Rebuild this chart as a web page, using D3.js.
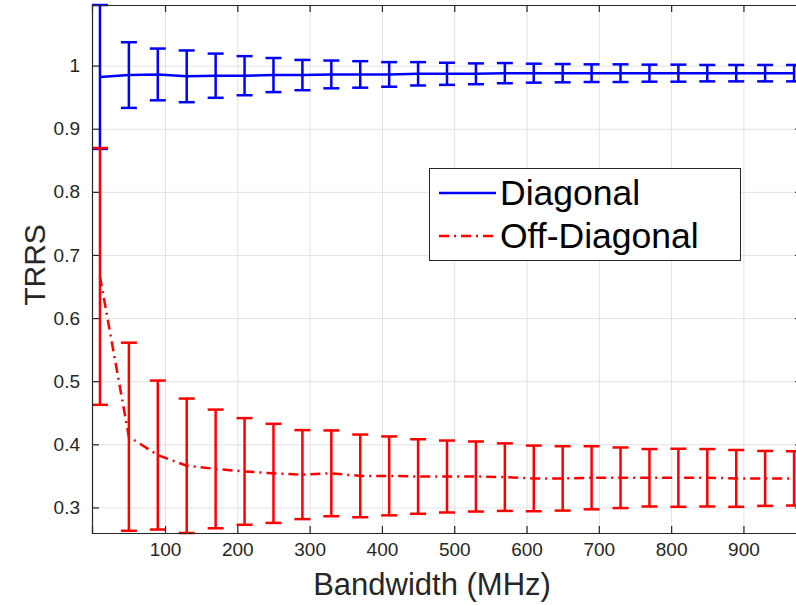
<!DOCTYPE html>
<html>
<head>
<meta charset="utf-8">
<script src="https://cdn.jsdelivr.net/npm/d3@7/dist/d3.min.js"></script>
<style>
    body { margin: 0; background: #fff; }
    svg text { font-family: 'Liberation Sans', Arial, sans-serif; fill: #262626; }
</style>
</head>
<body>
<div id="chart"></div>
<script>
// bandwidth steps (MHz)
var bandwidth = [10, 50, 90, 130, 170, 210, 250, 290, 330, 370, 410, 450, 490,
    530, 570, 610, 650, 690, 730, 770, 810, 850, 890, 930, 970];

// Diagonal: mean TRRS and error half-width
var diagMean = [0.982, 0.985, 0.986, 0.983, 0.984, 0.984, 0.985, 0.985, 0.986, 0.986,
    0.986, 0.987, 0.987, 0.987, 0.988, 0.988, 0.988, 0.988, 0.988, 0.988,
    0.988, 0.988, 0.988, 0.988, 0.988];
var diagErr = [0.114, 0.052, 0.041, 0.041, 0.035, 0.031, 0.027, 0.024, 0.022, 0.021,
    0.0195, 0.0185, 0.0175, 0.0165, 0.016, 0.015, 0.0145, 0.014, 0.014, 0.0135,
    0.0135, 0.013, 0.013, 0.013, 0.013];

// Off-diagonal
var offMean = [0.666, 0.412, 0.383, 0.366, 0.361, 0.357, 0.354, 0.352, 0.354, 0.350,
    0.350, 0.349, 0.349, 0.349, 0.348, 0.346, 0.346, 0.347, 0.347, 0.347,
    0.347, 0.347, 0.346, 0.346, 0.346];
var offErr = [0.2035, 0.149, 0.118, 0.1065, 0.094, 0.0845, 0.0785, 0.0705, 0.068, 0.0655,
    0.0625, 0.059, 0.057, 0.0555, 0.0535, 0.052, 0.051, 0.050, 0.048, 0.0455,
    0.046, 0.0455, 0.045, 0.0435, 0.043];

var xTicks = [100, 200, 300, 400, 500, 600, 700, 800, 900];
var yTicks = [0.3, 0.4, 0.5, 0.6, 0.7, 0.8, 0.9, 1];

var W = 796, H = 605;
var plotLeft = 92, plotTop = 5, plotRight = 802, plotBottom = 533;
var capHalf = 8;
var dashDot = '10,5,2,5';

var svg = d3.select('#chart').append('svg')
    .attr('width', W)
    .attr('height', H);

// tight limits like matlab "axis tight" (error bars included)
var yMin = d3.min(offMean.map(function(m, i) { return m - offErr[i]; }));
var yMax = d3.max(diagMean.map(function(m, i) { return m + diagErr[i]; }));

var xScale = d3.scaleLinear().domain([-1, 981]).range([plotLeft, plotRight]);
var yScale = d3.scaleLinear().domain([yMin, yMax]).range([plotBottom, plotTop]);

// grid
var grid = svg.append('g');
grid.append('g')
    .attr('transform', 'translate(0,' + plotBottom + ')')
    .call(d3.axisBottom(xScale).tickValues(xTicks).tickSize(-(plotBottom - plotTop)).tickFormat(''))
    .call(function(g) { g.select('.domain').remove(); });
grid.append('g')
    .attr('transform', 'translate(' + plotLeft + ',0)')
    .call(d3.axisLeft(yScale).tickValues(yTicks).tickSize(-(plotRight - plotLeft)).tickFormat(''))
    .call(function(g) { g.select('.domain').remove(); });
grid.selectAll('line').attr('stroke', '#e2e2e2').attr('stroke-width', 1);

function drawSeries(mean, err, color, dash) {
    var g = svg.append('g');
    var line = d3.line()
        .x(function(d, i) { return xScale(bandwidth[i]); })
        .y(function(d) { return yScale(d); });

    g.append('path')
        .datum(mean)
        .attr('d', line)
        .attr('fill', 'none')
        .attr('stroke', color)
        .attr('stroke-width', 2.5)
        .attr('stroke-dasharray', dash);

    var bars = g.selectAll('g.bar')
        .data(mean)
        .enter()
        .append('g')
        .attr('class', 'bar')
        .attr('stroke', color)
        .attr('stroke-width', 2.5);

    bars.append('line')
        .attr('x1', function(d, i) { return xScale(bandwidth[i]); })
        .attr('x2', function(d, i) { return xScale(bandwidth[i]); })
        .attr('y1', function(d, i) { return yScale(d + err[i]); })
        .attr('y2', function(d, i) { return yScale(d - err[i]); });
    bars.append('line')
        .attr('x1', function(d, i) { return xScale(bandwidth[i]) - capHalf; })
        .attr('x2', function(d, i) { return xScale(bandwidth[i]) + capHalf; })
        .attr('y1', function(d, i) { return yScale(d + err[i]); })
        .attr('y2', function(d, i) { return yScale(d + err[i]); });
    bars.append('line')
        .attr('x1', function(d, i) { return xScale(bandwidth[i]) - capHalf; })
        .attr('x2', function(d, i) { return xScale(bandwidth[i]) + capHalf; })
        .attr('y1', function(d, i) { return yScale(d - err[i]); })
        .attr('y2', function(d, i) { return yScale(d - err[i]); });
}

drawSeries(diagMean, diagErr, '#0000ff', null);
drawSeries(offMean, offErr, '#ff0000', dashDot);

// axes (box on, ticks inward)
var axes = svg.append('g');
axes.append('g')
    .attr('transform', 'translate(0,' + plotBottom + ')')
    .call(d3.axisBottom(xScale).tickValues(xTicks).tickSize(-7).tickPadding(10).tickFormat(d3.format('d')));
axes.append('g')
    .attr('transform', 'translate(0,' + plotTop + ')')
    .call(d3.axisTop(xScale).tickValues(xTicks).tickSize(-7).tickFormat(''));
axes.append('g')
    .attr('transform', 'translate(' + plotLeft + ',0)')
    .call(d3.axisLeft(yScale).tickValues(yTicks).tickSize(-7).tickPadding(12).tickFormat(d3.format('')));
axes.append('g')
    .attr('transform', 'translate(' + plotRight + ',0)')
    .call(d3.axisRight(yScale).tickValues(yTicks).tickSize(-7).tickFormat(''));
axes.selectAll('.domain').attr('stroke', '#262626').attr('stroke-width', 1.2);
axes.selectAll('.tick line').attr('stroke', '#262626').attr('stroke-width', 1.2);
axes.selectAll('.tick text').attr('font-size', 19).attr('fill', '#262626')
    .style('font-family', "'Liberation Sans', Arial, sans-serif");

// labels
svg.append('text')
    .attr('x', 432)
    .attr('y', 595)
    .attr('text-anchor', 'middle')
    .attr('font-size', 31)
    .text('Bandwidth (MHz)');

svg.append('text')
    .attr('transform', 'translate(45,265) rotate(-90)')
    .attr('text-anchor', 'middle')
    .attr('font-size', 30)
    .text('TRRS');

// legend
var legend = svg.append('g');
legend.append('rect')
    .attr('x', 429.5)
    .attr('y', 168.5)
    .attr('width', 311)
    .attr('height', 92)
    .attr('fill', '#fff')
    .attr('stroke', '#262626')
    .attr('stroke-width', 1);

var legendItems = [
    { name: 'Diagonal', color: '#0000ff', dash: null, y: 193 },
    { name: 'Off-Diagonal', color: '#ff0000', dash: dashDot, y: 236 }
];
legendItems.forEach(function(item) {
    legend.append('line')
        .attr('x1', 439)
        .attr('x2', 496)
        .attr('y1', item.y)
        .attr('y2', item.y)
        .attr('stroke', item.color)
        .attr('stroke-width', 2.5)
        .attr('stroke-dasharray', item.dash);
    legend.append('text')
        .attr('x', 500)
        .attr('y', item.y + 12)
        .attr('font-size', 35.5)
        .style('fill', '#000')
        .text(item.name);
});
</script>
</body>
</html>
